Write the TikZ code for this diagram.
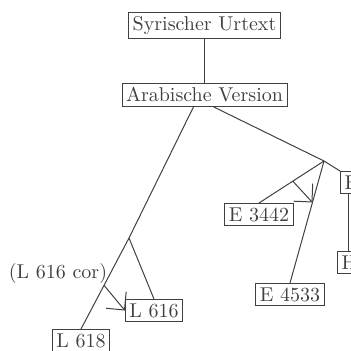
\documentclass[tikz,border=0pt]{standalone}
\usepackage{tikz}
\usetikzlibrary{positioning, calc, arrows.meta}
\tikzset{
    witness/.style={
        rectangle, draw=black!75, line width=0.5pt, inner sep=2pt,
        text=black!75, font=\normalsize
    },
    cutwitness/.style={
        witness, text width=30pt, align=left, anchor=north west
    },
    branch/.style={
        draw=black!75, line width=0.5pt
    },
    corrarrow/.style={
        branch, -{Straight Barb[length=6.5pt, width=13pt]}
    }
}
\begin{document}
\begin{tikzpicture}[x=0.5pt, y=-0.5pt]
    \clip (0,0) rectangle (351,351);

    % Archetype
    \node[witness] (syr_text) at (204.5,25.5) {Syrischer Urtext};
    \node[witness, below=22pt of syr_text] (arab_ver) {Arabische Version};

    % Branch points
    \coordinate (l_split) at (129,238);
    \coordinate (e_split) at (324,161);

    % Witnesses
    \node[witness, anchor=north] (l616) at (154,299) {L 616};
    \node[witness, anchor=north] (l618) at (81,329) {L 618};
    \node[text=black!75] (l616_cor) at (58,273) {(L 616 cor)};
    \node[witness, anchor=north] (e3442) at (259,203) {E 3442};
    \node[witness, anchor=north] (e4533) at (290,283) {E 4533};
    \node[cutwitness] (e_cut) at (340,171) {E};
    \node[cutwitness] (h_cut) at (337,251) {H};

    % Stemma lines
    \draw[branch] (syr_text) -- (arab_ver);
    \draw[branch] ([xshift=-5.5pt]arab_ver.south) -- (l_split) -- (l618.north);
    \draw[branch] (l_split) -- (l616.north);
    \draw[branch] ([xshift=4.5pt]arab_ver.south) -- (e_split) -- (e_cut.north west);
    \draw[branch] (e_split) -- (e3442.north);
    \draw[branch] (e_split) -- (e4533.north);
    \draw[branch] ([xshift=4pt]e_cut.south west) -- ([xshift=4pt]e_cut.south west |- h_cut.north);

    % Corrections
    \coordinate (l_cor_from) at ($(l_split)!0.52!(l618.north)$);
    \draw[corrarrow] (l_cor_from) -- (l616.west);
    \coordinate (e_cor_from) at ($(e_split)!0.48!(e3442.north)$);
    \coordinate (e_cor_to) at ($(e_split)!0.34!(e4533.north)$);
    \draw[corrarrow] (e_cor_from) -- (e_cor_to);

\end{tikzpicture}
\end{document}
